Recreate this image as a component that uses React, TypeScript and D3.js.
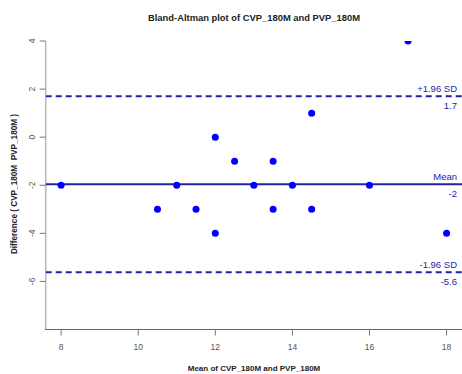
import React from 'react';
import * as d3 from 'd3';

const meanVals = [8, 10.5, 11, 11.5, 12, 12, 12.5, 13, 13.5, 13.5, 14, 14.5, 14.5, 16, 17, 18];
const diffVals = [-2, -3, -2, -3, 0, -4, -1, -2, -1, -3, -2, 1, -3, -2, 4, -4];
const limitNames = ['+1.96 SD', 'Mean', '-1.96 SD'];
const limitVals = [1.7, -1.96, -5.62];
const limitLabels = ['1.7', '-2', '-5.6'];
const xTicks = [8, 10, 12, 14, 16, 18];
const yTicks = [4, 2, 0, -2, -4, -6];

const W = 462;
const H = 374;
const left = 45.7;
const right = 462;
const top = 41;
const bottom = 329.5;

const navy = '#2323a6';

export default function App() {
  const x = d3.scaleLinear().domain([7.6, 18.4]).range([left, right]);
  const y = d3.scaleLinear().domain([-8, 4]).range([bottom, top]);
  const font = '"Liberation Sans", Arial, sans-serif';

  return (
    <svg width={W} height={H} style={{ position: 'absolute', left: 0, top: 0, background: '#fff' }} fontFamily={font}>
      <defs>
        <clipPath id="plotClip">
          <rect x={left} y={top} width={right - left} height={bottom - top} />
        </clipPath>
      </defs>

      <text x={254} y={20.5} textAnchor="middle" fontSize={9.4} fontWeight="bold" fill="#222">
        Bland-Altman plot of CVP_180M and PVP_180M
      </text>

      {/* box (bty = "l") */}
      <line x1={left} x2={left} y1={top} y2={bottom} stroke="#bbb" strokeWidth={1.6} />
      <line x1={left - 0.8} x2={right} y1={bottom} y2={bottom} stroke="#666" strokeWidth={1} />

      {/* y axis */}
      {yTicks.map(t => (
        <g key={'y' + t}>
          <line x1={left - 6} x2={left} y1={y(t)} y2={y(t)} stroke="#777" strokeWidth={1} />
          <text transform={`translate(${35},${y(t)}) rotate(-90)`} textAnchor="middle" fontSize={8.5} fill="#555">
            {t}
          </text>
        </g>
      ))}

      {/* x axis */}
      {xTicks.map(t => (
        <g key={'x' + t}>
          <line x1={x(t)} x2={x(t)} y1={bottom} y2={bottom + 6} stroke="#777" strokeWidth={1} />
          <text x={x(t)} y={349.5} textAnchor="middle" fontSize={8.5} fill="#555">
            {t}
          </text>
        </g>
      ))}

      <text x={254} y={371} textAnchor="middle" fontSize={8} fontWeight="bold" fill="#222">
        Mean of CVP_180M and PVP_180M
      </text>
      <text
        transform={`translate(${17},${184}) rotate(-90)`}
        textAnchor="middle"
        fontSize={8.2}
        fontWeight="bold"
        fill="#222"
        style={{ whiteSpace: 'pre' }}
      >
        {'Difference ( CVP_180M  PVP_180M )'}
      </text>

      <g clipPath="url(#plotClip)">
        {limitVals.map((v, i) => (
          <line
            key={'l' + i}
            x1={left}
            x2={right}
            y1={y(v)}
            y2={y(v)}
            stroke={navy}
            strokeWidth={2}
            strokeDasharray={i === 1 ? undefined : '6,4'}
          />
        ))}
        {meanVals.map((m, i) => (
          <circle key={'p' + i} cx={x(m)} cy={y(diffVals[i])} r={3.5} fill="#0000ff" />
        ))}
      </g>

      {limitVals.map((v, i) => (
        <g key={'t' + i}>
          <text x={457} y={y(v) - 4} textAnchor="end" fontSize={9.5} fill={navy}>
            {limitNames[i]}
          </text>
          <text x={457} y={y(v) + 13} textAnchor="end" fontSize={9.5} fill={navy}>
            {limitLabels[i]}
          </text>
        </g>
      ))}
    </svg>
  );
}
